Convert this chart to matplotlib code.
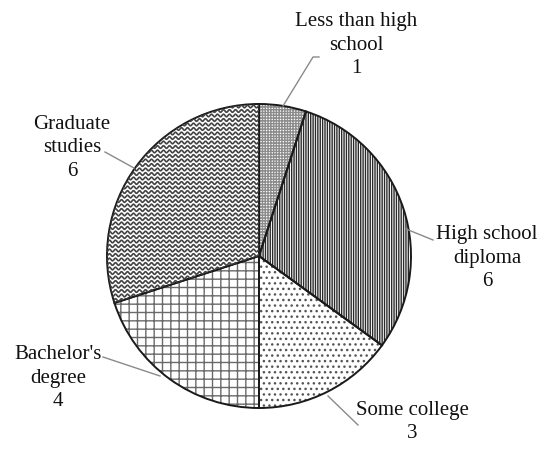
import numpy as np
import matplotlib.pyplot as plt

plt.rcParams['font.family'] = ['Liberation Serif', 'DejaVu Serif']
plt.rcParams['hatch.linewidth'] = 1.0

categories = ["Less than high\nschool", "High school\ndiploma", "Some college",
              "Bachelor's\ndegree", "Graduate\nstudies"]
counts = [1, 6, 3, 4, 6]
hatches = ['++++++', '|||||||', '...', '++', '']
hatch_colors = ['#8c8c8c', '#2a2a2a', '#555555', '#6a6a6a', '#444444']

# label positions (pixels from top-left) and leader lines
label_pos = [(356, 45), (487, 258), (412, 422), (58, 378), (72, 148)]
leaders = [[(283, 106), (313, 57), (319, 57)],
           [(406, 229), (433, 240)],
           [(328, 396), (358, 425)],
           [(160, 376), (103, 357)],
           [(134, 168), (105, 152)]]

W, H = 546, 449
fig = plt.figure(figsize=(W / 100, H / 100), dpi=100)
ax = fig.add_axes([0, 0, 1, 1])

cx, cy, r = 259, H - 256, 152

wedges, _ = ax.pie(counts, startangle=90, counterclock=False, center=(cx, cy),
                   radius=r, frame=True, wedgeprops=dict(linewidth=0))
for w, h, c in zip(wedges, hatches, hatch_colors):
    w.set_facecolor('white')
    w.set_edgecolor(c)
    w.set_hatch(h)

# wavy fill for the last wedge
wavy = wedges[-1]
xs = np.linspace(cx - r, cx + r, 900)
for y0 in np.arange(cy - r, cy + r, 4.5):
    ln, = ax.plot(xs, y0 + 1.3 * np.sin(xs * 2 * np.pi / 6.0), color='#444444', lw=1.2)
    ln.set_clip_path(wavy)

# outlines
ax.pie(counts, startangle=90, counterclock=False, center=(cx, cy),
       radius=r, frame=True,
       wedgeprops=dict(fill=False, edgecolor='#1a1a1a', linewidth=1.4))

ax.set_xlim(0, W)
ax.set_ylim(0, H)
ax.set_aspect('equal')
ax.axis('off')

for lab, n, (tx, ty), pts in zip(categories, counts, label_pos, leaders):
    ax.text(tx, H - ty, f"{lab}\n{n}", ha='center', va='center', fontsize=15,
            linespacing=1.3, color='#111111')
    ax.plot([p[0] for p in pts], [H - p[1] for p in pts], color='#8a8a8a', lw=1.0)

fig.savefig('out.png', dpi=100)
